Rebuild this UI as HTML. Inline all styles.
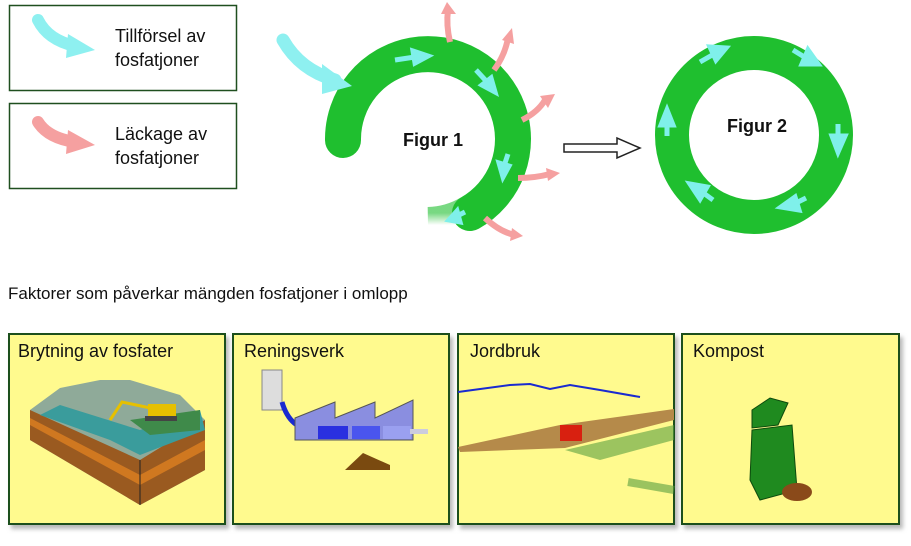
<!DOCTYPE html>
<html><head><meta charset="utf-8"><style>
body{margin:0;background:#fff;width:911px;height:541px;overflow:hidden;font-family:"Liberation Sans",sans-serif}
</style></head><body>
<svg width="911" height="541" viewBox="0 0 911 541" xmlns="http://www.w3.org/2000/svg" font-family="Liberation Sans, sans-serif">
<defs>
<linearGradient id="fade" x1="0" y1="0" x2="0" y2="1">
<stop offset="0" stop-color="#1fbf2f"/><stop offset="1" stop-color="#1fbf2f" stop-opacity="0"/>
</linearGradient>
<filter id="sh" x="-10%" y="-10%" width="130%" height="130%"><feDropShadow dx="3" dy="4" stdDeviation="2" flood-color="#888" flood-opacity="0.6"/></filter>
</defs>
<!-- legend -->
<rect x="9.5" y="5.5" width="227" height="85" fill="#fff" stroke="#1f4f1f" stroke-width="1.5"/>
<rect x="9.5" y="103.5" width="227" height="85" fill="#fff" stroke="#1f4f1f" stroke-width="1.5"/>
<path d="M38 20 Q48 40 75 46" stroke="#8ef0f0" stroke-width="12" fill="none" stroke-linecap="round"/>
<polygon points="68,34 95,50 66,58" fill="#8ef0f0"/>
<path d="M38 122 Q48 138 75 142" stroke="#f5a0a0" stroke-width="12" fill="none" stroke-linecap="round"/>
<polygon points="68,130 95,145 66,154" fill="#f5a0a0"/>
<text x="115" y="42" font-size="18" fill="#111">Tillförsel av</text>
<text x="115" y="66" font-size="18" fill="#111">fosfatjoner</text>
<text x="115" y="140" font-size="18" fill="#111">Läckage av</text>
<text x="115" y="164" font-size="18" fill="#111">fosfatjoner</text>
<!-- figure 1 -->
<path d="M343 140 A85 85 0 1 1 470 213" stroke="#1fbf2f" stroke-width="36" fill="none" stroke-linecap="round"/>
<path d="M470 213 A85 85 0 0 1 428 225" stroke="url(#fade)" stroke-width="36" fill="none" opacity="0.6"/>
<path d="M283 40 Q300 70 335 80" stroke="#8ef0f0" stroke-width="13" fill="none" stroke-linecap="round"/>
<polygon points="322,64 352,86 322,94" fill="#8ef0f0"/>
<g stroke="#f5a0a0" stroke-width="6" fill="none">
<path d="M450 42 Q446 25 448 10"/><path d="M494 70 Q505 55 508 38"/><path d="M522 120 Q538 112 545 100"/><path d="M518 178 Q535 178 550 174"/><path d="M485 218 Q500 232 515 235"/>
</g>
<g fill="#f5a0a0">
<polygon points="441,14 447,2 456,14"/><polygon points="502,40 512,28 514,44"/><polygon points="540,96 555,94 548,108"/><polygon points="546,168 560,173 548,181"/><polygon points="512,228 523,236 510,241"/>
</g>
<g stroke="#7ff0ea" stroke-width="5" fill="#7ff0ea">
<line x1="395" y1="60" x2="415" y2="57"/><polygon points="413,51 428,56 415,63"/>
<line x1="476" y1="70" x2="488" y2="83"/><polygon points="482,85 495,92 491,78"/>
<line x1="508" y1="154" x2="504" y2="166"/><polygon points="499,163 503,177 509,166"/>
<line x1="465" y1="212" x2="455" y2="217"/><polygon points="457,211 449,220 460,222"/>
</g>
<text x="433" y="146" font-size="18" font-weight="bold" text-anchor="middle" fill="#111">Figur 1</text>
<!-- hollow arrow -->
<path d="M564 144 H617 V138 L640 148 L617 158 V152 H564 Z" fill="#fff" stroke="#222" stroke-width="1.5"/>
<!-- figure 2 -->
<circle cx="754" cy="135" r="82" stroke="#1fbf2f" stroke-width="34" fill="none"/>
<g fill="#7ff0ea" stroke="#7ff0ea" stroke-width="5">
<line x1="700" y1="62" x2="714" y2="54"/><polygon points="710,47 726,48 716,60"/>
<line x1="793" y1="50" x2="806" y2="58"/><polygon points="808,50 818,64 802,64"/>
<line x1="838" y1="124" x2="838" y2="138"/><polygon points="832,136 838,152 845,136"/>
<line x1="806" y1="198" x2="794" y2="204"/><polygon points="795,197 781,207 799,210"/>
<line x1="713" y1="200" x2="702" y2="192"/><polygon points="700,199 690,184 707,187"/>
<line x1="667" y1="136" x2="667" y2="124"/><polygon points="661,125 667,110 673,125"/>
</g>
<text x="757" y="132" font-size="18" font-weight="bold" text-anchor="middle" fill="#111">Figur 2</text>
<text x="8" y="299" font-size="17" fill="#111">Faktorer som påverkar mängden fosfatjoner i omlopp</text>
<!-- panels -->
<g filter="url(#sh)" fill="#fffa8e" stroke="#1f4f1f" stroke-width="2">
<rect x="9" y="334" width="216" height="190"/>
<rect x="233" y="334" width="216" height="190"/>
<rect x="458" y="334" width="216" height="190"/>
<rect x="682" y="334" width="217" height="190"/>
</g>
<g font-size="18" fill="#111">
<text x="18" y="357">Brytning av fosfater</text>
<text x="244" y="357">Reningsverk</text>
<text x="470" y="357">Jordbruk</text>
<text x="693" y="357">Kompost</text>
</g>
<!-- mining -->
<polygon points="30,410 60,388 100,380 130,380 180,395 205,420 205,470 140,505 30,440" fill="#8faa99"/>
<polygon points="30,440 140,505 205,470 205,420 140,460 30,410" fill="#9a5a20"/>
<polygon points="30,425 140,485 205,450 205,440 140,475 30,418" fill="#d07820"/>
<polygon points="40,415 110,440 140,455 205,430 200,410 140,430 60,405" fill="#3a9c9c"/>
<polygon points="130,420 165,415 200,410 200,430 150,435" fill="#3f8a4a"/>
<line x1="140" y1="460" x2="140" y2="505" stroke="#222"/>
<path d="M110 420 L122 402 L160 410" stroke="#e6c000" stroke-width="3" fill="none"/>
<rect x="148" y="404" width="28" height="12" fill="#e6c000"/>
<rect x="145" y="416" width="32" height="5" fill="#444"/>
<!-- reningsverk -->
<rect x="262" y="370" width="20" height="40" fill="#ddd" stroke="#888"/>
<path d="M282 402 Q290 430 315 430" stroke="#1a2ad0" stroke-width="5" fill="none"/>
<polygon points="295,440 295,418 335,402 335,418 375,402 375,418 413,400 413,440" fill="#8a8ee0" stroke="#555"/>
<rect x="318" y="426" width="30" height="13" fill="#2a30e0"/><rect x="352" y="426" width="28" height="13" fill="#4a55ee"/><rect x="383" y="426" width="28" height="13" fill="#9aa0f0"/>
<rect x="410" y="429" width="18" height="5" fill="#ccd"/>
<polygon points="345,470 363,453 390,465 390,470" fill="#7a4a10"/>
<!-- jordbruk -->
<path d="M458 392 L510 385 L530 384 L550 389 L570 385 L600 390 L640 397" stroke="#1a2ad0" stroke-width="2" fill="none"/>
<polygon points="458,447 560,425 674,409 674,420 565,448 460,452" fill="#b58a4a"/>
<rect x="560" y="425" width="22" height="16" fill="#d82010"/>
<path d="M565 450 L674 425 L674 440 L600 460 Z" fill="#5aa040" opacity="0.6"/>
<path d="M628 482 L674 490" stroke="#5aa040" stroke-width="8" opacity="0.6"/>
<!-- kompost -->
<polygon points="752,430 792,425 797,490 760,500 750,480" fill="#1f8a1f" stroke="#0d4a0d"/>
<polygon points="752,410 770,398 788,403 778,425 752,428" fill="#1f8a1f" stroke="#0d4a0d"/>
<ellipse cx="797" cy="492" rx="15" ry="9" fill="#8a4a1a"/>
</svg>
</body></html>
